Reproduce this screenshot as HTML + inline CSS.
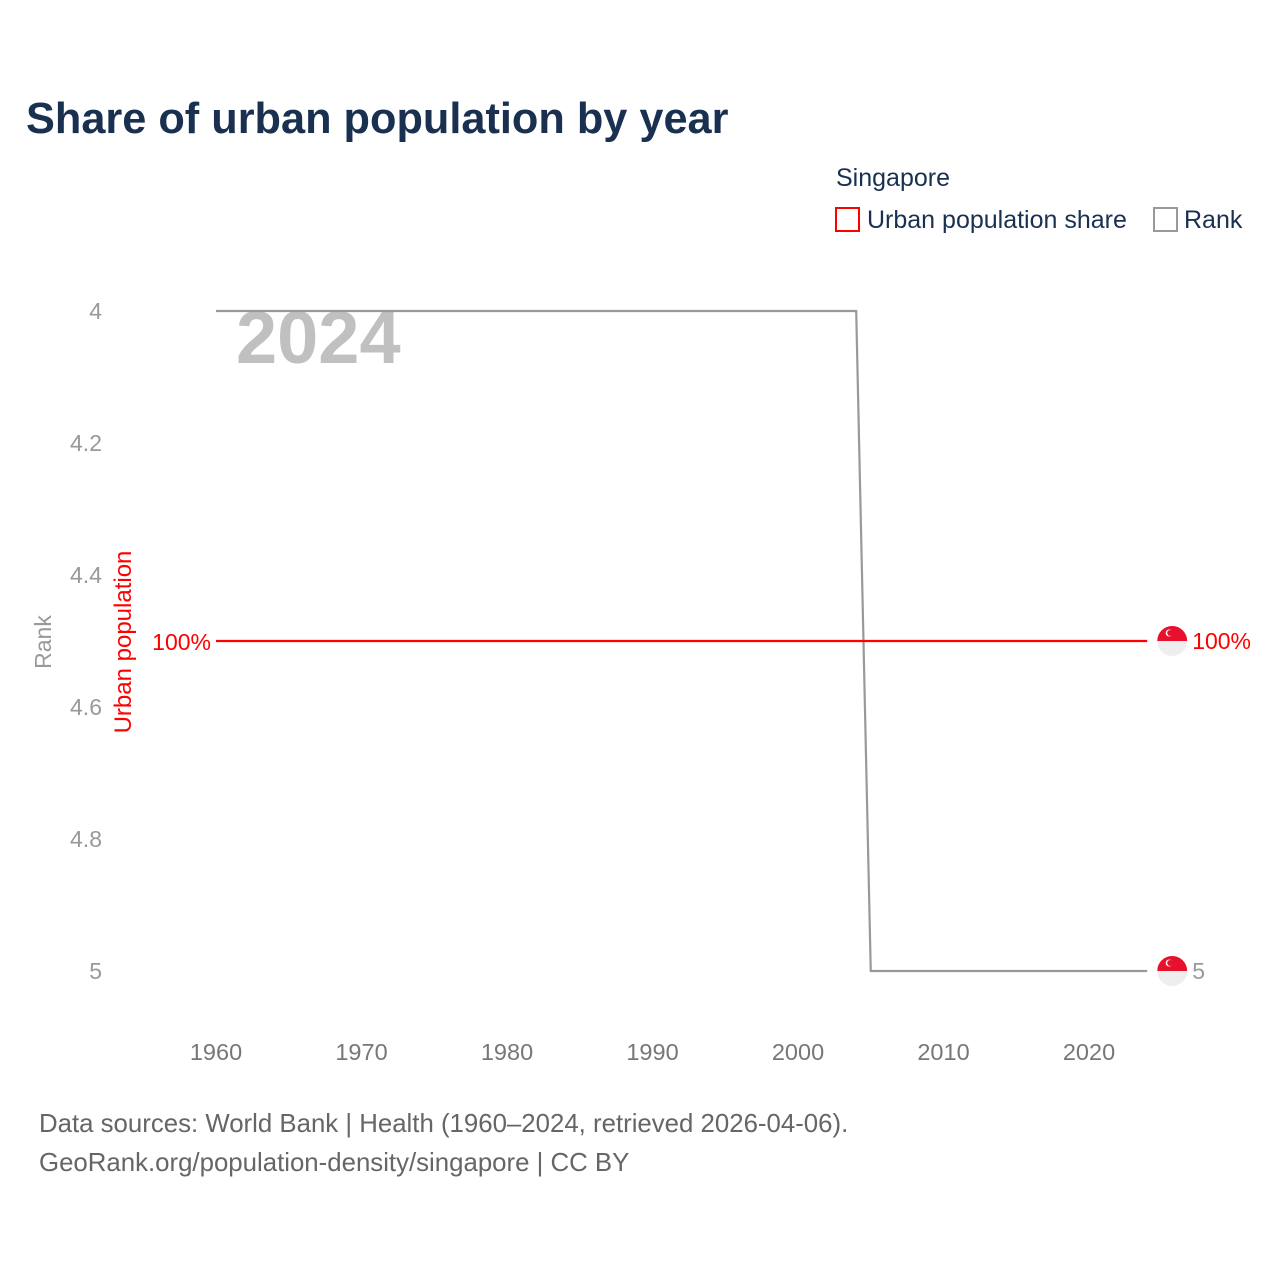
<!DOCTYPE html>
<html><head><meta charset="utf-8"><style>
body{margin:0;background:#fff;width:1280px;height:1280px;overflow:hidden;font-family:"Liberation Sans",sans-serif}
</style></head><body>
<svg width="1280" height="1280" xmlns="http://www.w3.org/2000/svg" id="chart">
<text x="26" y="133" font-size="43.3" font-weight="bold" fill="#1a3050">Share of urban population by year</text>
<text x="836" y="186" font-size="25" fill="#1a3050">Singapore</text>
<g><rect x="836" y="208" width="23" height="23" fill="none" stroke="#f00" stroke-width="2"/><text x="867" y="228" font-size="25" fill="#1a3050">Urban population share</text></g>
<g><rect x="1154" y="208" width="23" height="23" fill="none" stroke="#999" stroke-width="2"/><text x="1184" y="228" font-size="25" fill="#1a3050">Rank</text></g>
<text x="236" y="363" font-size="74" font-weight="bold" fill="#c0c0c0">2024</text>
<text transform="translate(51,642) rotate(-90)" text-anchor="middle" font-size="23" fill="#999">Rank</text>
<text transform="translate(131,642) rotate(-90)" text-anchor="middle" font-size="24" fill="#f00">Urban population</text>
<g id="yticks"></g><g id="xticks"></g><g id="marks"></g>
<text x="39" y="1132" font-size="25.8" fill="#666">Data sources: World Bank | Health (1960–2024, retrieved 2026-04-06).</text>
<text x="39" y="1171" font-size="25.8" fill="#666">GeoRank.org/population-density/singapore | CC BY</text>
</svg>
<script>
const years=[1960,2004,2005,2024];
const rankValues=[4,4,5,5];
const urbanYears=[1960,2024];
const urbanValues=[100,100];
const rankTicks=[4,4.2,4.4,4.6,4.8,5];
const yearTicks=[1960,1970,1980,1990,2000,2010,2020];
const NS="http://www.w3.org/2000/svg";
const xs=y=>216+(y-1960)*(1089-216)/60;
const ys=r=>311+(r-4)*660;
const yu=v=>641+(100-v)*3;
function mk(t,a,p){const e=document.createElementNS(NS,t);for(const k in a)e.setAttribute(k,a[k]);document.getElementById(p).appendChild(e);return e;}
rankTicks.forEach(r=>{const t=mk('text',{x:102,y:ys(r)+8,'text-anchor':'end','font-size':23,fill:'#999'},'yticks');t.textContent=String(r);

});
yearTicks.forEach(y=>{const t=mk('text',{x:xs(y),y:1060,'text-anchor':'middle','font-size':23.5,fill:'#777'},'xticks');t.textContent=y;

});
const rl=mk('polyline',{points:years.map((y,i)=>xs(y)+','+ys(rankValues[i])).join(' '),fill:'none',stroke:'#999','stroke-width':2.2},'marks');


const ul=mk('polyline',{points:urbanYears.map((y,i)=>xs(y)+','+yu(urbanValues[i])).join(' '),fill:'none',stroke:'#f00','stroke-width':2.2},'marks');


const ul2=mk('text',{x:211,y:yu(urbanValues[0])+9,'text-anchor':'end','font-size':23,fill:'#f00'},'marks');ul2.textContent=urbanValues[0]+'%';


function flag(cx,cy,name){const g=mk('g',{},'marks');
g.innerHTML=`<clipPath id="c${cy}"><circle cx="${cx}" cy="${cy}" r="15"/></clipPath><g clip-path="url(#c${cy})"><rect x="${cx-15}" y="${cy-15}" width="30" height="15" fill="#e8112d"/><rect x="${cx-15}" y="${cy}" width="30" height="15" fill="#eee"/></g><circle cx="${cx-3}" cy="${cy-8}" r="3.5" fill="#fff"/><circle cx="${cx-2}" cy="${cy-8}" r="3" fill="#e8112d"/>`;}
const lx=xs(years[years.length-1]);
flag(lx+25,yu(urbanValues[1]),'flag-urban');
flag(lx+25,ys(rankValues[3]),'flag-rank');
const e1=mk('text',{x:lx+45,y:yu(urbanValues[1])+8,'font-size':23,fill:'#f00'},'marks');e1.textContent=urbanValues[1]+'%';


const e2=mk('text',{x:lx+45,y:ys(rankValues[3])+8,'font-size':23,fill:'#999'},'marks');e2.textContent=rankValues[3];


</script>
</body></html>
